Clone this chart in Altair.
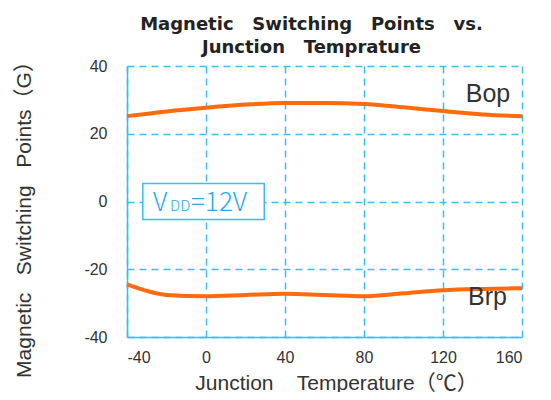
import altair as alt
import pandas as pd

# Data
temps = [-40, -20, 0, 20, 40, 60, 80, 100, 120, 140, 160]
bop = [25.2, 26.6, 27.7, 28.6, 29.1, 29.1, 28.8, 27.8, 26.7, 25.7, 25.2]
brp = [-24.5, -27.6, -28.0, -27.6, -27.2, -27.6, -28.0, -27.1, -26.2, -25.8, -25.6]

x_ticks = [-40, 0, 40, 80, 120, 160]
y_ticks = [-40, -20, 0, 20, 40]

label_names = ["Bop", "Brp"]
label_x = [142.8, 142.5]
label_y = [31.6, -28.2]

box_x = [-32.0]
box_x2 = [29.5]
box_y = [5.3]
box_y2 = [-5.3]
vdd_x = [-26.8]
vdd_y = [0.0]

BLUE = "#3BBDEF"
ORANGE = "#FF6A0D"
TXT = "#333333"
NB = "\u00a0"

df = pd.DataFrame({
    "t": temps * 2,
    "v": bop + brp,
    "s": ["Bop"] * len(temps) + ["Brp"] * len(temps),
})
labels = pd.DataFrame({"name": label_names, "x": label_x, "y": label_y})
box = pd.DataFrame({"x": box_x, "x2": box_x2, "y": box_y, "y2": box_y2})
vdd = pd.DataFrame({"x": vdd_x, "y": vdd_y})

xscale = alt.Scale(domain=[-40, 160], nice=False, zero=False)
yscale = alt.Scale(domain=[-40, 40], nice=False, zero=False)

xaxis = alt.Axis(
    values=x_ticks, title="Junction" + NB * 4 + "Temperature（℃）",
    titleX=209, titleY=46, titleBaseline="middle", titleAlign="center",
    labelExpr="'' + datum.value",
)
yaxis = alt.Axis(
    values=y_ticks,
    title="Magnetic" + NB * 3 + "Switching" + NB * 3 + "Points（G）",
    titleAngle=270, titleX=-103, titleY=148, titleAlign="center",
    titleBaseline="middle", labelExpr="'' + datum.value",
)

lines = alt.Chart(df).mark_line(
    color=ORANGE, strokeWidth=4, interpolate="monotone"
).encode(
    x=alt.X("t:Q", scale=xscale, axis=xaxis),
    y=alt.Y("v:Q", scale=yscale, axis=yaxis),
    detail="s:N",
)

rect = alt.Chart(box).mark_rect(
    fill="white", stroke=BLUE, strokeWidth=1.5
).encode(x="x:Q", x2="x2:Q", y="y:Q", y2="y2:Q")

font_cjk = "Noto Sans CJK SC"

v1 = alt.Chart(vdd).mark_text(
    text="V", align="left", baseline="alphabetic", fontSize=26,
    font=font_cjk, color="#2AAAE2", dy=9, fontWeight=300
).encode(x="x:Q", y="y:Q")
v2 = alt.Chart(vdd).mark_text(
    text="DD", align="left", baseline="alphabetic", fontSize=15,
    font=font_cjk, color="#2AAAE2", dy=9, dx=17, fontWeight=300
).encode(x="x:Q", y="y:Q")
v3 = alt.Chart(vdd).mark_text(
    text="=12V", align="left", baseline="alphabetic", fontSize=26,
    font=font_cjk, color="#2AAAE2", dy=9, dx=38, fontWeight=300
).encode(x="x:Q", y="y:Q")

lab = alt.Chart(labels).mark_text(
    fontSize=25, font="Liberation Sans", color=TXT, baseline="middle", align="center"
).encode(x="x:Q", y="y:Q", text="name:N")

chart = alt.layer(lines, rect, v1, v2, v3, lab).properties(
    width=395, height=271,
    autosize=alt.AutoSizeParams(type="none"),
    padding={"left": 119, "top": 58, "right": 21, "bottom": 55},
    title=alt.Title(
        text=["Magnetic" + NB * 3 + "Switching" + NB * 3 + "Points" + NB * 3 + "vs.",
              "Junction" + NB * 3 + "Temprature"],
        anchor="middle", fontSize=18, fontWeight="bold",
        font="DejaVu Sans", color="#222222", offset=0, dy=6, dx=-13, lineHeight=23,
    ),
).configure_view(stroke=None).configure_axis(
    domainColor=BLUE, domainWidth=1.5, ticks=False,
    gridColor=BLUE, gridDash=[7, 5], gridWidth=1.5, gridOpacity=1,
    labelColor=TXT, labelFontSize=16, labelFont="Liberation Sans",
    titleColor=TXT, titleFontSize=21, titleFontWeight="normal",
    titleFont="Liberation Sans, Noto Sans CJK SC",
).configure_axisY(labelPadding=20).configure_axisX(labelPadding=12)

chart.save("out.html", embed_options={"renderer": "svg", "actions": False})
